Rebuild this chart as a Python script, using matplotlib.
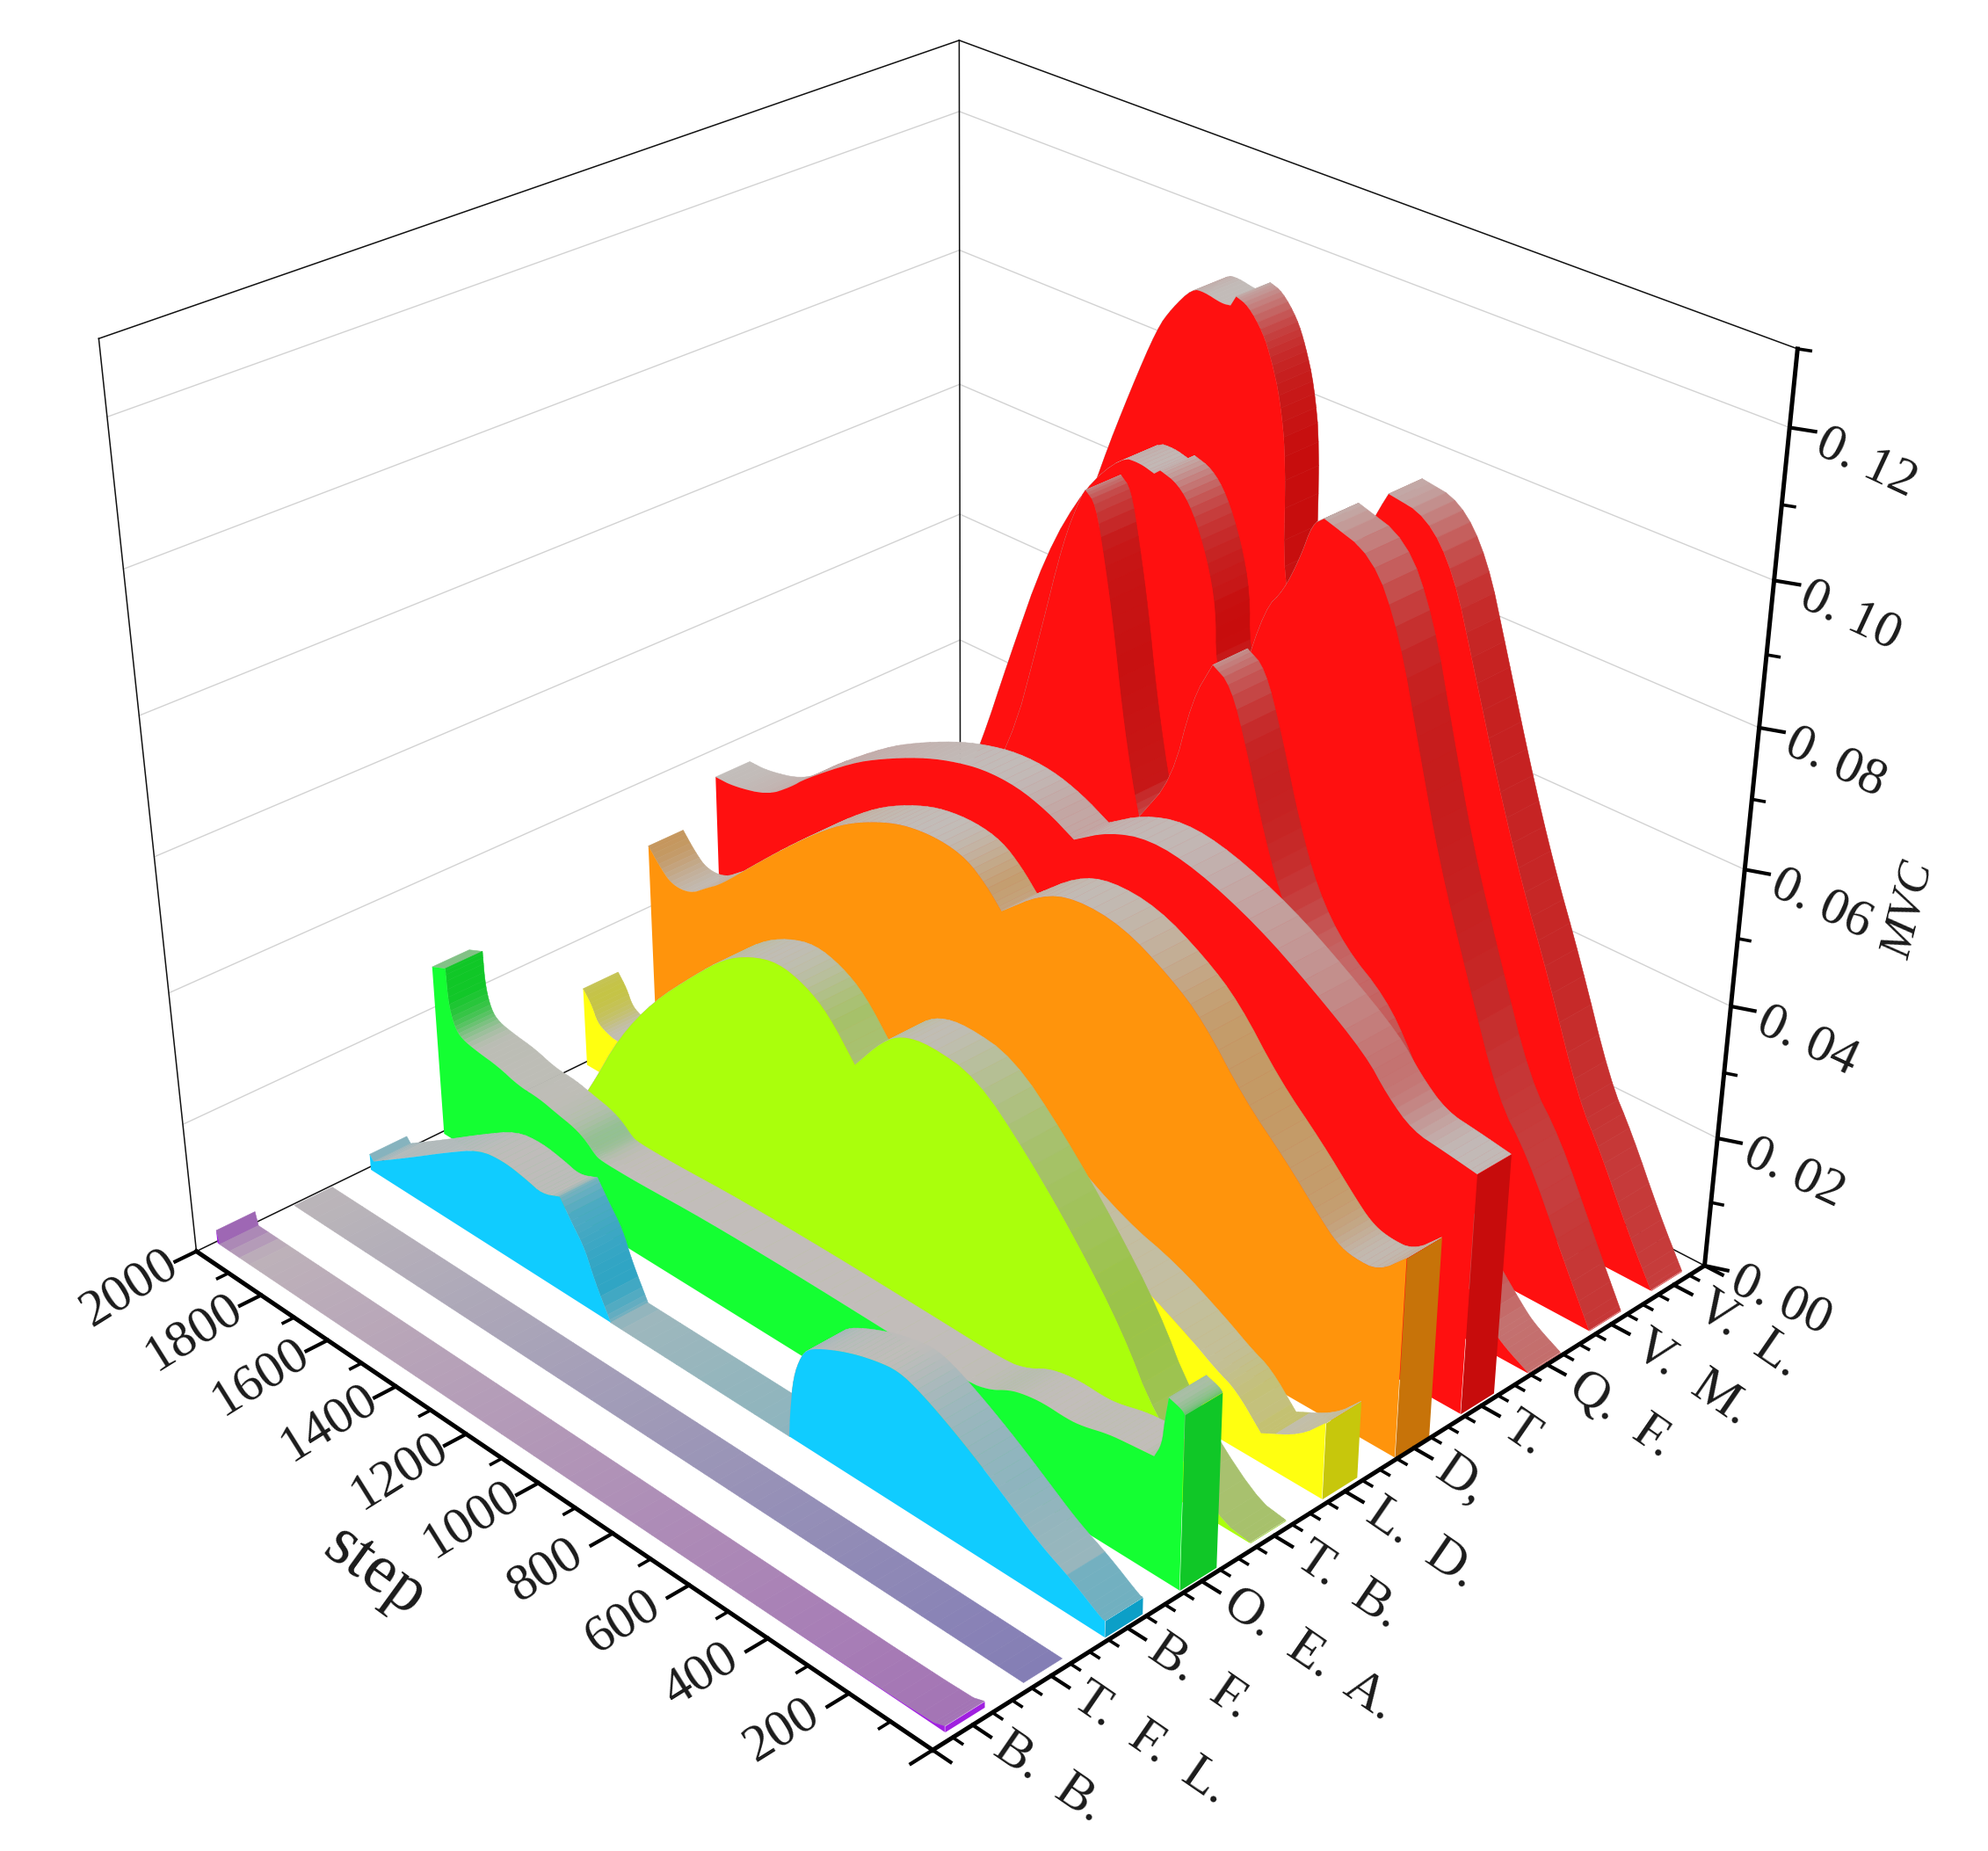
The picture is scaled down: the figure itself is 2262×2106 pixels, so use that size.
import numpy as np, matplotlib
matplotlib.use('Agg')
import matplotlib.pyplot as plt
from mpl_toolkits.mplot3d.art3d import Poly3DCollection, Line3DCollection

W, H = 2262, 2106
# ---------- data: step positions and MVC (in units of 1e-4) per category ----------
categories = ["B.  B.", "T.  F.  L.", "B.  F.", "O.  E.  A.", "T.  B.", "L.  D.", "D,", "T.", "Q.  F.", "V.  M.", "V.  L."]
step_ticks = [200, 400, 600, 800, 1000, 1200, 1400, 1600, 1800, 2000]
mvc_ticks = ["0. 00", "0. 02", "0. 04", "0. 06", "0. 08", "0. 10", "0. 12"]

step_1 = [1995, 1988, 1000, 60, 19]
mvc_1 = [20, 0, 0, 0, 9]
step_2 = [1995, 1000, 19]
mvc_2 = [0, 0, 0]
step_3 = [1991, 1980, 1861, 1749, 1645, 1572, 1505, 1464, 1412, 1378, 1347, 1323, 1282, 795, 791, 780, 759, 738, 690, 626, 564, 510, 457, 389, 313, 239, 164, 90, 16, 9]
mvc_3 = [25, 17, 63, 108, 147, 153, 146, 139, 152, 120, 94, 52, 0, 0, 39, 97, 136, 155, 172, 189, 200, 205, 194, 172, 143, 111, 78, 55, 25, 25]
step_4 = [1992, 1951, 1949, 1936, 1916, 1868, 1807, 1748, 1687, 1637, 1586, 1553, 1529, 1513, 1446, 1387, 1223, 984, 743, 523, 469, 423, 386, 340, 281, 244, 185, 134, 76, 59, 54, 46, 16, 9]
mvc_4 = [267, 277, 225, 192, 178, 172, 168, 157, 156, 149, 143, 133, 120, 116, 116, 117, 122, 123, 121, 118, 127, 144, 151, 155, 153, 156, 167, 171, 175, 199, 235, 272, 266, 261]
step_5 = [1990, 1850, 1755, 1662, 1558, 1438, 1352, 1277, 1204, 1133, 1072, 1003, 931, 879, 810, 692, 567, 441, 329, 249, 89, 15]
mvc_5 = [0, 0, 96, 205, 292, 369, 420, 447, 460, 449, 425, 371, 428, 453, 462, 452, 382, 294, 202, 107, 8, 1]
step_6 = [1990, 1966, 1950, 1924, 1894, 1700, 1500, 1300, 1150, 1020, 900, 744, 587, 460, 335, 272, 224, 161, 70, 13]
mvc_6 = [125, 106, 82, 74, 69, 70, 100, 180, 260, 270, 280, 242, 187, 165, 125, 101, 88, 45, 76, 116]
step_7 = [1989, 1956, 1922, 1867, 1816, 1776, 1685, 1587, 1491, 1407, 1315, 1243, 1162, 1092, 1040, 1000, 899, 814, 697, 580, 496, 394, 289, 206, 164, 124, 66, 5]
mvc_7 = [302, 278, 260, 262, 286, 303, 357, 414, 466, 504, 532, 546, 550, 542, 518, 491, 545, 565, 560, 523, 484, 404, 346, 292, 268, 260, 261, 301]
step_8 = [1991, 1937, 1837, 1767, 1728, 1593, 1508, 1406, 1324, 1235, 1146, 1067, 997, 909, 808, 691, 541, 408, 276, 222, 160, 88, 10]
mvc_8 = [361, 361, 376, 408, 431, 493, 523, 553, 571, 583, 582, 568, 546, 582, 601, 591, 554, 505, 449, 408, 376, 370, 362]
step_9 = [1950, 1800, 1650, 1500, 1346, 1270, 1212, 1169, 1158, 1132, 1108, 1082, 1056, 1026, 1007, 927, 881, 834, 790, 744, 695, 640, 569, 467, 400, 300, 200, 100, 68, 7]
mvc_9 = [0, 70, 190, 350, 539, 723, 873, 945, 957, 944, 875, 786, 672, 573, 527, 604, 733, 794, 778, 695, 587, 497, 435, 391, 330, 210, 110, 40, 22, 1]
step_10 = [1950, 1850, 1700, 1611, 1538, 1438, 1336, 1243, 1198, 1161, 1146, 1102, 1063, 1024, 998, 994, 965, 930, 876, 835, 797, 772, 745, 629, 558, 496, 434, 355, 265, 187, 93, 15]
mvc_10 = [0, 100, 280, 423, 567, 754, 876, 941, 943, 937, 945, 937, 909, 852, 787, 708, 660, 700, 818, 852, 909, 961, 975, 953, 863, 714, 571, 430, 275, 212, 95, 1]
step_11 = [1950, 1800, 1650, 1550, 1471, 1398, 1334, 1298, 1248, 1218, 1174, 1152, 1139, 1109, 1071, 1048, 1023, 1003, 998, 950, 880, 776, 754, 663, 593, 533, 462, 391, 313, 221, 161, 81, 18]
mvc_11 = [0, 130, 400, 680, 836, 960, 1060, 1096, 1134, 1136, 1130, 1132, 1147, 1141, 1113, 1081, 1032, 952, 771, 730, 790, 936, 964, 955, 894, 776, 635, 508, 389, 232, 170, 70, 1]

steps = [step_1, step_2, step_3, step_4, step_5, step_6, step_7, step_8, step_9, step_10, step_11]
mvcs = [mvc_1, mvc_2, mvc_3, mvc_4, mvc_5, mvc_6, mvc_7, mvc_8, mvc_9, mvc_10, mvc_11]
wall_colors = [(160, 32, 224), (70, 60, 225), (16, 204, 255), (20, 255, 50), (170, 255, 12), (255, 255, 16),
               (255, 148, 12), (255, 16, 16), (255, 16, 16), (255, 16, 16), (255, 16, 16)]

# ---------- camera: fitted to the box corners ----------
corners = [((.5, 0, 0), (1061, 1991)), ((11.5, 0, 0), (1940, 1440)), ((.5, 2000, 0), (224, 1424)),
           ((11.5, 2000, 0), (1092, 1001)), ((11.5, 2000, .13), (1092, 46)), ((.5, 2000, .13), (112, 385)),
           ((11.5, 0, .13), (2045, 397))]
A, b = [], []
for (x, y, z), (u, v) in corners:
    A.append([x, y, z, 1, 0, 0, 0, 0, -u*x, -u*y, -u*z]); b.append(u)
    A.append([0, 0, 0, 0, x, y, z, 1, -v*x, -v*y, -v*z]); b.append(v)
p = np.linalg.lstsq(np.array(A), np.array(b), rcond=None)[0]
P = np.array([p[:4], p[4:8], list(p[8:]) + [1]])

def project(x, y, z):
    r = P @ np.array([x, y, z, 1.])
    return r[0] / r[2], r[1] / r[2]

SERIF = ['Liberation Serif', 'DejaVu Serif']
TXT = '#1a1a1a'
fig = plt.figure(figsize=(W/100, H/100), dpi=100)
ax = fig.add_axes([0, 0, 1, 1], projection='3d')
ax.set_axis_off()
ax.computed_zorder = False

def get_proj():
    T = ax.transData.inverted().get_matrix()
    F = np.array([[1, 0, 0], [0, -1, H], [0, 0, 1.]])
    Q = T @ F @ P
    return np.vstack([Q[0], Q[1], [0, 1e-3, 0, 0], Q[2]])
ax.get_proj = get_proj

def lines(segs, color, lw, zo):
    ax.add_collection3d(Line3DCollection(segs, colors=color, linewidths=lw, zorder=zo, capstyle='projecting'), autolim=False)

def label(px, py, s, rot, ha='center', **kw):
    fig.text(px / W, 1 - py / H, s, rotation=rot, ha=ha, va='center', rotation_mode='anchor',
             family=SERIF, color=TXT, **kw)

# box and grid
X0, X1, Y1, Z1 = .5, 11.5, 2000, .13
grid = []
for zz in np.arange(.02, .13, .02):
    grid += [[(X0, Y1, zz), (X1, Y1, zz)], [(X1, Y1, zz), (X1, 0, zz)]]
lines(grid, '#d2d2d2', 1.0, 1)
box = [[(X0, Y1, 0), (X0, Y1, Z1)], [(X1, Y1, 0), (X1, Y1, Z1)], [(X0, Y1, Z1), (X1, Y1, Z1)], [(X1, Y1, Z1), (X1, 0, Z1)],
       [(X0, Y1, 0), (X1, Y1, 0)], [(X1, Y1, 0), (X1, 0, 0)]]
lines(box, '#111111', 1.1, 2)

# rendering of the wall outline: rounded joins, true corners stay sharp
def round_joins(s, z):
    u, v = np.asarray(s, float) / 2000 * .8, np.asarray(z, float) / .13
    a = np.arctan2(np.diff(v), -np.diff(u))
    turn = np.abs((a[1:] - a[:-1] + np.pi) % (2 * np.pi) - np.pi)
    cut = [0] + [i + 1 for i, t in enumerate(turn) if t > np.radians(50)] + [len(s) - 1]
    S, Z = [], []
    for i0, i1 in zip(cut[:-1], cut[1:]):
        q = np.column_stack([s[i0:i1+1], z[i0:i1+1]]).astype(float)
        for _ in range(2):
            if len(q) > 2:
                mid = np.empty((2 * (len(q) - 1), 2))
                mid[0::2] = .75 * q[:-1] + .25 * q[1:]
                mid[1::2] = .25 * q[:-1] + .75 * q[1:]
                q = np.vstack([q[:1], mid, q[-1:]])
        S += list(q[:, 0]); Z += list(q[:, 1])
    S, Z = np.array(S), np.array(Z)
    # split long straight runs so that the shade can change gradually
    fs, fz = [S[0]], [Z[0]]
    for j in range(len(S) - 1):
        n = max(1, int(abs(S[j+1] - S[j]) // 30))
        for t in np.linspace(0, 1, n + 1)[1:]:
            fs.append(S[j] + t * (S[j+1] - S[j])); fz.append(Z[j] + t * (Z[j+1] - Z[j]))
    return np.array(fs), np.array(fz)

GRAY = np.array([194, 189, 186.])
def strip_colors(rgb, s, z):
    rgb = np.array(rgb, float)
    dark = rgb * .78
    ds = np.abs(np.diff(s)) / 2000
    dz = np.diff(z) / .13
    m = np.abs(dz) / np.maximum(ds, 1e-6)
    nz = 1 / np.sqrt(1 + m * m)
    w = 1 - nz ** 1.9
    w = np.where(dz < 0, w, w * .35)     # dz<0: the top falls towards step 0
    raw = w.copy()
    ker = np.ones(9) / 9
    w = np.convolve(np.pad(w, 4, mode='edge'), ker, mode='valid')
    w = np.where(raw > .97, raw, w)
    mids, zm = .5 * (s[1:] + s[:-1]), np.maximum(z[1:], z[:-1])
    low = .05 + .4 * (1 - mids / 2000)
    w = np.where(zm < .006, np.maximum(w, low), w)
    c = np.outer(1 - w, GRAY) + np.outer(w, dark)
    return np.clip(c / 255, 0, 1)

D = .25
for i in range(10, -1, -1):
    c = i + 1
    s, z = round_joins(np.array(steps[i], float), np.array(mvcs[i], float) * 1e-4)
    rgb = wall_colors[i]
    base = 10 + (10 - i) * 3
    quads = [[(c-D, s[j], z[j]), (c+D, s[j], z[j]), (c+D, s[j+1], z[j+1]), (c-D, s[j+1], z[j+1])] for j in range(len(s) - 1)]
    cols = strip_colors(rgb, s, z)
    ax.add_collection3d(Poly3DCollection(quads, facecolors=cols, edgecolors=cols, linewidths=.4, zorder=base), autolim=False)
    dark = tuple(np.array(rgb) * (.78 if i else 1.) / 255)
    cap = [[(c-D, s[-1], 0), (c+D, s[-1], 0), (c+D, s[-1], z[-1]), (c-D, s[-1], z[-1])]]
    ax.add_collection3d(Poly3DCollection(cap, facecolors=[dark], edgecolors=[dark], linewidths=0, zorder=base+1), autolim=False)
    col = tuple(np.array(rgb) / 255)
    face = [[(c-D, s[0], 0)] + [(c-D, a, bb) for a, bb in zip(s, z)] + [(c-D, s[-1], 0)]]
    ax.add_collection3d(Poly3DCollection(face, facecolors=[col], edgecolors='none', linewidths=0, zorder=base+2), autolim=False)

# axes
AX = 100
lines([[(X0, Y1, 0), (X0, 0, 0)], [(X0, 0, 0), (X1, 0, 0)], [(X1, 0, 0), (X1, 0, Z1)]], 'k', 3.6, AX)
maj, mnr = [], []
for v in range(0, 2001, 100):
    big = v % 200 == 0
    (maj if big else mnr).append([(X0, v, 0), (X0 - (.27 if big else .14), v, 0)])
for k in range(0, 45):
    v = .5 + k * .25
    big = (k % 4 == 2) or k in (0, 44)
    (maj if big else mnr).append([(v, 0, 0), (v, -42 if big else -22, 0)])
for k in range(0, 14):
    big = k % 2 == 0
    (maj if big else mnr).append([(X1, 0, k * .01), (X1 + (.1 if big else .05), -40 if big else -20, k * .01)])
lines(maj, 'k', 3.0, AX)
lines(mnr, 'k', 2.6, AX)

# labels
FS = 43
for v in step_ticks:
    x, y = project(X0, v, 0)
    label(x - 76, y + 42, str(v), 32, fontsize=FS)
label(426, 1789, 'step', -36, fontsize=56)
for k, lab in enumerate(categories):
    x, y = project(k + 1, 0, 0)
    label(x + 30, y + 20, lab, -34.5, ha='left', fontsize=FS)
for k, lab in enumerate(mvc_ticks):
    x, y = project(X1, 0, k * .02)
    label(x + 33, y + 15, lab, -25, ha='left', fontsize=FS)
label(2172, 1036, 'MVC', 76, style='italic', fontsize=38)

fig.savefig('out.png', dpi=100)
